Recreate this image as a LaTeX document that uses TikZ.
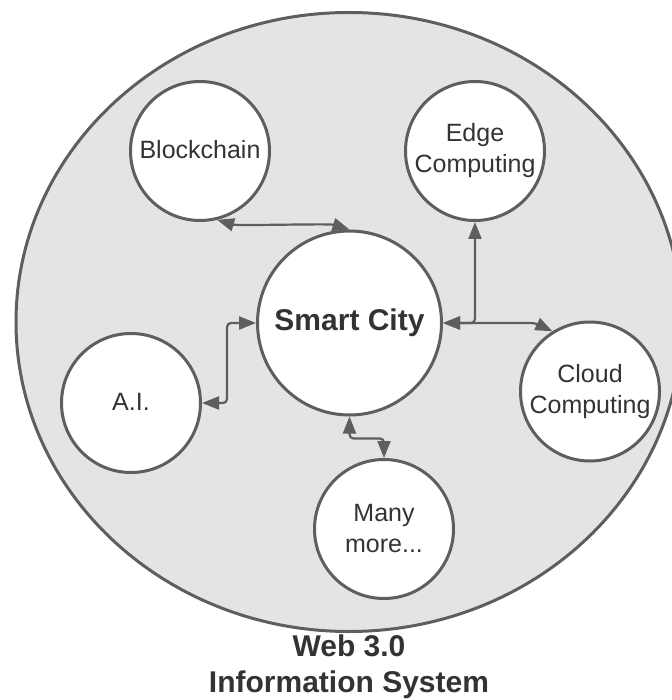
\documentclass[tikz,border=0pt]{standalone}
\usepackage{fontspec}
\setmainfont{Liberation Sans}
\usetikzlibrary{arrows.meta,shapes.geometric,positioning}
\definecolor{linegray}{HTML}{5E5E5E}
\definecolor{fillgray}{HTML}{E4E4E4}
\definecolor{textgray}{HTML}{333333}

\begin{document}
\begin{tikzpicture}[x=1pt, y=-1pt,
        topic/.style = {circle, draw=linegray, line width=3pt, fill=white, minimum size=139pt,
            inner sep=0pt, align=center, text=textgray, font=\fontsize{25}{31}\selectfont},
        link/.style = {draw=linegray, line width=2.2pt, rounded corners=4pt,
            {Triangle[length=17pt,width=13pt]}-{Triangle[length=17pt,width=13pt]}}]
    \useasboundingbox (0,0) rectangle (671,700);
    % the system as a whole
    \node [ellipse, draw=linegray, fill=fillgray, line width=3pt, minimum width=666pt,
        minimum height=619pt, inner sep=0pt] (web) at (349,322) {};
    \node [align=center, text=textgray, font=\bfseries\fontsize{30}{36}\selectfont] (name) at (349,667)
        {Web 3.0\\Information System};
    % the topics
    \node [topic, minimum size=184pt, font=\bfseries\fontsize{30}{36}\selectfont] (city) at (349.5,323) {Smart City};
    \node [topic] (blk) at (200,151) {\raisebox{3pt}{Blockchain}};
    \node [topic] (edge) at (475,151) {Edge\\Computing};
    \node [topic] (ai) at (131,403) {\raisebox{2pt}{A.I.}};
    \node [topic] (cloud) at (590,391.5) {Cloud\\Computing};
    \node [topic] (many) at (384,529) {Many\\more...};
    % links
    \draw [link] (blk.-76) .. controls +(20,6) and +(-20,-6) .. (city.north);
    \draw [link] (ai.east) -| ([xshift=-29pt]city.west) -- (city.west);
    \draw [link] (city.east) -| (edge.south);
    \draw [link] (city.east) -- ++(92,0) -- (cloud.122);
    \draw [link] (city.south) -- ++(0,22) -| (many.north);
\end{tikzpicture}
\end{document}
